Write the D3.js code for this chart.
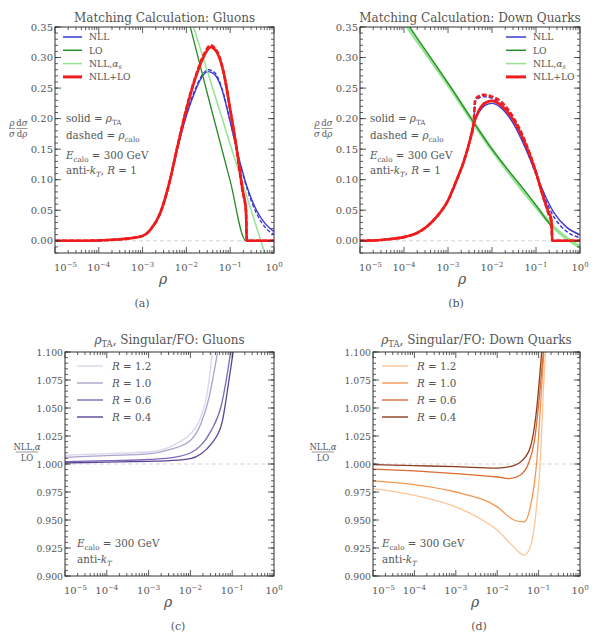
<!DOCTYPE html>
<html>
<head>
<meta charset="utf-8">
<script src="https://cdn.jsdelivr.net/npm/d3@7"></script>
<style>
  html, body { margin: 0; padding: 0; background: #fff; }
</style>
</head>
<body>
<svg id="chart" width="596" height="637" font-family="DejaVu Serif, Liberation Serif, serif"></svg>
<script>
// ---------- DATA (each point is [log10 rho, value]) ----------

const X_TICK_EXP = [-5, -4, -3, -2, -1, 0];
const DIST_Y_TICKS = [0, 0.05, 0.10, 0.15, 0.20, 0.25, 0.30, 0.35];
const RATIO_Y_TICKS = [0.9, 0.925, 0.95, 0.975, 1.0, 1.025, 1.05, 1.075, 1.1];
const R_LABELS = ["R = 1.2", "R = 1.0", "R = 0.6", "R = 0.4"];

// (a) gluons
const gluonRise = [[-5, 0], [-4.5, 0], [-4, 0.0005], [-3.6, 0.002], [-3.3, 0.004], [-3, 0.008],
  [-2.8, 0.02], [-2.6, 0.045], [-2.4, 0.092]];
const gluonNll = [[-2.2, 0.152], [-2, 0.205], [-1.8, 0.245], [-1.65, 0.268], [-1.5, 0.277],
  [-1.35, 0.272], [-1.2, 0.25], [-1, 0.195], [-0.8, 0.135], [-0.6, 0.085], [-0.4, 0.05],
  [-0.2, 0.028], [0, 0.015]];
const gluonNllCalo = [[-2.2, 0.153], [-2, 0.207], [-1.8, 0.248], [-1.5, 0.28], [-1.35, 0.275],
  [-1.2, 0.252], [-1, 0.195], [-0.8, 0.133], [-0.6, 0.082], [-0.4, 0.045], [-0.2, 0.022], [0, 0.01]];
const gluonLo = [[-1.94, 0.358], [-1.5, 0.235], [-1, 0.098], [-0.64, 0.0], [-0.63, 0.0]];
const gluonNllAs = [[-1.88, 0.36], [-1, 0.158], [-0.3, 0.0], [-0.2, -0.023]];
const gluonMatched = [[-2.2, 0.155], [-2, 0.215], [-1.8, 0.265], [-1.6, 0.302], [-1.45, 0.317],
  [-1.3, 0.308], [-1.15, 0.275], [-1, 0.215], [-0.85, 0.15], [-0.72, 0.085], [-0.64, 0.05],
  [-0.62, 0], [0, 0]];
const gluonMatchedCalo = [[-2.2, 0.156], [-2, 0.217], [-1.8, 0.267], [-1.6, 0.305], [-1.45, 0.32],
  [-1.3, 0.31], [-1.15, 0.276], [-1, 0.215], [-0.85, 0.148], [-0.72, 0.082], [-0.64, 0.048],
  [-0.62, 0], [0, 0]];

// (b) down quarks
const quarkRise = [[-5, 0], [-4.6, 0.001], [-4.3, 0.003], [-4, 0.006], [-3.7, 0.013], [-3.5, 0.022],
  [-3.25, 0.04], [-3, 0.066], [-2.8, 0.1], [-2.65, 0.128], [-2.5, 0.165], [-2.42, 0.19]];
const quarkNll = [[-2.3, 0.21], [-2.15, 0.222], [-2, 0.225], [-1.8, 0.218], [-1.5, 0.19],
  [-1.25, 0.153], [-1, 0.11], [-0.8, 0.075], [-0.6, 0.047], [-0.3, 0.022], [0, 0.01]];
const quarkNllCalo = [[-2.38, 0.228], [-2.2, 0.236], [-2, 0.233], [-1.8, 0.224], [-1.5, 0.195],
  [-1.25, 0.155], [-1, 0.108], [-0.8, 0.07], [-0.6, 0.04], [-0.3, 0.015], [0, 0.005]];
const quarkLo = [[-3.9, 0.353], [-3, 0.258], [-2, 0.15], [-1, 0.058], [-0.8, 0.038], [-0.64, 0.02],
  [-0.63, 0]];
const quarkNllAs = [[-3.95, 0.353], [-3, 0.256], [-2, 0.149], [-1, 0.056], [-0.6, 0.022],
  [-0.3, 0.004], [0, -0.01]];
const quarkMatched = [[-2.3, 0.213], [-2.15, 0.226], [-2, 0.229], [-1.8, 0.222], [-1.5, 0.196],
  [-1.25, 0.16], [-1, 0.112], [-0.85, 0.075], [-0.72, 0.048], [-0.65, 0.035], [-0.63, 0], [0, 0]];
const quarkMatchedCalo = [[-2.38, 0.232], [-2.2, 0.239], [-2, 0.236], [-1.8, 0.228], [-1.5, 0.2],
  [-1.25, 0.163], [-1, 0.112], [-0.85, 0.075], [-0.72, 0.045], [-0.65, 0.03], [-0.63, 0], [0, 0]];

// (c) gluon ratio NLL,alpha / LO for R = 1.2, 1.0, 0.6, 0.4
const gluonRatio12 = [[-5, 1.0077], [-4, 1.0093], [-3, 1.0107], [-2.5, 1.015], [-2.25, 1.02],
  [-2, 1.027], [-1.75, 1.042], [-1.6, 1.063], [-1.52, 1.085], [-1.47, 1.102]];
const gluonRatio10 = [[-5, 1.006], [-4, 1.0075], [-3, 1.009], [-2.5, 1.0128], [-2, 1.021],
  [-1.75, 1.036], [-1.55, 1.06], [-1.42, 1.085], [-1.34, 1.102]];
const gluonRatio06 = [[-5, 1.002], [-4, 1.003], [-3, 1.004], [-2.5, 1.0054], [-2, 1.0098],
  [-1.75, 1.0166], [-1.5, 1.03], [-1.25, 1.054], [-1.12, 1.08], [-1.03, 1.102]];
const gluonRatio04 = [[-5, 1.001], [-4, 1.0017], [-3, 1.0024], [-2.5, 1.003], [-2, 1.0048],
  [-1.75, 1.009], [-1.5, 1.018], [-1.25, 1.036], [-1.1, 1.069], [-0.97, 1.102]];

// (d) down quark ratio
const quarkRatio12 = [[-5, 0.978], [-4, 0.972], [-3, 0.9617], [-2.5, 0.953], [-2, 0.941],
  [-1.6, 0.926], [-1.35, 0.9186], [-1.2, 0.926], [-1.05, 0.9617], [-0.95, 1.009], [-0.88, 1.069],
  [-0.83, 1.102]];
const quarkRatio10 = [[-5, 0.985], [-4, 0.9816], [-3, 0.975], [-2, 0.9617], [-1.6, 0.95],
  [-1.35, 0.9483], [-1.2, 0.9617], [-1.05, 1.0], [-0.95, 1.054], [-0.87, 1.102]];
const quarkRatio06 = [[-5, 0.9955], [-4, 0.9938], [-3, 0.9914], [-2, 0.9884], [-1.7, 0.987],
  [-1.45, 0.99], [-1.25, 1.0], [-1.1, 1.021], [-0.98, 1.06], [-0.88, 1.102]];
const quarkRatio04 = [[-5, 0.9994], [-4, 0.9985], [-3, 0.9976], [-2, 0.9964], [-1.6, 0.9985],
  [-1.4, 1.003], [-1.2, 1.015], [-1.05, 1.048], [-0.97, 1.08], [-0.92, 1.102]];

// ---------- STYLE ----------
const FONT = "DejaVu Serif, Liberation Serif, serif";
const TXT = "#555";
const C_BLUE = "#3a3ad6", C_GREEN = "#2a8a2a", C_LGREEN = "#93e493", C_RED = "#ee1c1c";
const PURPLES = ["#dbd5ea", "#aba1cd", "#7d69b6", "#5a4494"];
const ORANGES = ["#fdc595", "#f39650", "#dc6a31", "#8d3d1f"];

const svg = d3.select("#chart");

// rich text with italic / sub / sup pieces
function richText(parent, x, y, parts, size, anchor) {
  const t = parent.append("text").attr("x", x).attr("y", y)
    .attr("font-family", FONT).attr("fill", TXT)
    .attr("font-size", size).attr("text-anchor", anchor || "start");
  let shift = 0;
  parts.forEach((p) => {
    const s = typeof p === "string" ? { t: p } : p;
    const target = s.sub ? size * 0.28 : s.sup ? -size * 0.42 : 0;
    const fs = s.sub || s.sup ? size * 0.7 : size;
    t.append("tspan").attr("dy", target - shift).attr("font-size", fs)
      .attr("font-style", s.it ? "italic" : null).text(s.t);
    shift = target;
  });
  return t;
}

function drawPanel(cfg) {
  const x = d3.scaleLog().domain([1e-5, 1]).range([cfg.left, cfg.right]);
  const y = d3.scaleLinear().domain(cfg.yDomain).range([cfg.bottom, cfg.top]);
  const g = svg.append("g");
  const clipId = "clip-" + cfg.name;
  g.append("clipPath").attr("id", clipId).append("rect")
    .attr("x", cfg.left).attr("y", cfg.top)
    .attr("width", cfg.right - cfg.left).attr("height", cfg.bottom - cfg.top);

  // reference line
  g.append("line")
    .attr("x1", cfg.left).attr("x2", cfg.right)
    .attr("y1", y(cfg.refY)).attr("y2", y(cfg.refY))
    .attr("stroke", "#c8c8c8").attr("stroke-width", 0.8).attr("stroke-dasharray", "4,3");

  const line = d3.line()
    .x((d) => x(Math.pow(10, d[0])))
    .y((d) => y(d[1]))
    .curve(d3.curveMonotoneX);

  const curves = g.append("g").attr("clip-path", `url(#${clipId})`);
  cfg.series.forEach((s) => {
    curves.append("path")
      .attr("d", line(s.data))
      .attr("fill", "none")
      .attr("stroke", s.color)
      .attr("stroke-width", s.width)
      .attr("stroke-dasharray", s.dash || null)
      .attr("stroke-linejoin", "round");
  });

  // ticks, all four sides, pointing in
  const tk = g.append("g").attr("stroke", "#333").attr("stroke-width", 0.8);
  const majorX = X_TICK_EXP.map((e) => Math.pow(10, e));
  const minorX = [];
  X_TICK_EXP.slice(0, -1).forEach((e) => {
    for (let k = 2; k <= 9; k++) minorX.push(k * Math.pow(10, e));
  });
  [[majorX, 6], [minorX, 3]].forEach(([vals, len]) => {
    vals.forEach((v) => {
      tk.append("line").attr("x1", x(v)).attr("x2", x(v))
        .attr("y1", cfg.bottom).attr("y2", cfg.bottom - len);
      tk.append("line").attr("x1", x(v)).attr("x2", x(v))
        .attr("y1", cfg.top).attr("y2", cfg.top + len);
    });
  });
  const minorY = d3.range(cfg.yDomain[0], cfg.yDomain[1] + 1e-9, cfg.yMinor);
  [[cfg.yTicks, 6], [minorY, 3]].forEach(([vals, len]) => {
    vals.forEach((v) => {
      tk.append("line").attr("y1", y(v)).attr("y2", y(v))
        .attr("x1", cfg.left).attr("x2", cfg.left + len);
      tk.append("line").attr("y1", y(v)).attr("y2", y(v))
        .attr("x1", cfg.right).attr("x2", cfg.right - len);
    });
  });

  g.append("rect")
    .attr("x", cfg.left).attr("y", cfg.top)
    .attr("width", cfg.right - cfg.left).attr("height", cfg.bottom - cfg.top)
    .attr("fill", "none").attr("stroke", "#333").attr("stroke-width", 1);

  // tick labels
  cfg.yTicks.forEach((v) => {
    richText(g, cfg.left - 2, y(v) + 3.5, [cfg.yFmt(v)], cfg.yTickSize, "end");
  });
  X_TICK_EXP.forEach((e, i) => {
    const parts = ["10", { t: e === 0 ? "0" : "\u2212" + Math.abs(e), sup: true }];
    const xx = i === 0 ? x(Math.pow(10, e)) - 1 : x(Math.pow(10, e));
    richText(g, xx, cfg.bottom + 18, parts, 10, i === 0 ? "start" : "middle");
  });

  // title, axis label, panel tag
  const cx = (cfg.left + cfg.right) / 2;
  richText(g, cx, cfg.top - cfg.titleDy, cfg.title, 12, "middle");
  richText(g, cfg.xLabelX, cfg.bottom + 31, [{ t: "\u03c1", it: true }], 14, "middle");
  richText(g, cfg.tagX, cfg.bottom + 54, [cfg.tag], 11, "middle");

  // legend
  cfg.legend.items.forEach((it, i) => {
    const ly = cfg.legend.y + i * cfg.legend.dy;
    g.append("line")
      .attr("x1", cfg.legend.x).attr("x2", cfg.legend.x + cfg.legend.len)
      .attr("y1", ly).attr("y2", ly)
      .attr("stroke", it.color).attr("stroke-width", it.width);
    richText(g, cfg.legend.x + cfg.legend.len + cfg.legend.gap, ly + cfg.legend.size * 0.35,
      it.label, cfg.legend.size, "start");
  });

  // notes
  cfg.notes.forEach((n) => richText(g, cfg.noteX, n.y, n.parts, 10.3, "start"));

  // y label (stacked fractions)
  cfg.yLabel.forEach((f) => {
    richText(g, f.x, f.y - 2.5, f.num, 8.5, "middle");
    g.append("line").attr("x1", f.x - f.w / 2).attr("x2", f.x + f.w / 2)
      .attr("y1", f.y).attr("y2", f.y).attr("stroke", TXT).attr("stroke-width", 0.6);
    richText(g, f.x, f.y + 8.5, f.den, 8.5, "middle");
  });
}

// ---------- PANELS ----------
const distNotes = [
  { y: 122, parts: ["solid = ", { t: "\u03c1", it: true }, { t: "TA", sub: true }] },
  { y: 139, parts: ["dashed = ", { t: "\u03c1", it: true }, { t: "calo", sub: true }] },
  { y: 159, parts: [{ t: "E", it: true }, { t: "calo", sub: true }, " = 300 GeV"] },
  { y: 174, parts: ["anti-", { t: "k", it: true }, { t: "T", sub: true, it: true }, ", ", { t: "R", it: true }, " = 1"] }
];
const ratioNotes = [
  { y: 547, parts: [{ t: "E", it: true }, { t: "calo", sub: true }, " = 300 GeV"] },
  { y: 563, parts: ["anti-", { t: "k", it: true }, { t: "T", sub: true, it: true }] }
];
const distLegend = [
  { label: ["NLL"], color: C_BLUE, width: 1.5 },
  { label: ["LO"], color: C_GREEN, width: 1.5 },
  { label: ["NLL,", { t: "\u03b1", it: true }, { t: "s", sub: true, it: true }], color: C_LGREEN, width: 1.5 },
  { label: ["NLL+LO"], color: C_RED, width: 3 }
];
function rLegend(colors) {
  return R_LABELS.map((l, i) => ({
    label: [{ t: "R", it: true }, l.slice(1)], color: colors[i], width: 1.4
  }));
}
const distYLabel = (x0) => [
  { x: x0, y: 128.5, w: 6, num: [{ t: "\u03c1", it: true }], den: [{ t: "\u03c3", it: true }] },
  { x: x0 + 10, y: 128.5, w: 11, num: ["d", { t: "\u03c3", it: true }], den: ["d", { t: "\u03c1", it: true }] }
];
const ratioYLabel = (x0) => [
  { x: x0, y: 452, w: 22, num: ["NLL,", { t: "\u03b1", it: true }], den: ["LO"] }
];

const distBase = {
  top: 27, bottom: 253, yDomain: [-0.02, 0.35], yTicks: DIST_Y_TICKS, yTickSize: 10,
  yMinor: 0.01, yFmt: d3.format(".2f"), refY: 0, titleDy: 5.5
};
const ratioBase = {
  top: 352, bottom: 576, yDomain: [0.9, 1.1], yTicks: RATIO_Y_TICKS, yTickSize: 9.3,
  yMinor: 0.005, yFmt: d3.format(".3f"), refY: 1, titleDy: 8
};

drawPanel(Object.assign({}, distBase, {
  name: "a", left: 55, right: 274, xLabelX: 163, tagX: 142, tag: "(a)",
  title: ["Matching Calculation: Gluons"],
  series: [
    { data: gluonRise.concat(gluonNllCalo), color: C_BLUE, width: 1.4, dash: "4,2" },
    { data: gluonRise.concat(gluonNll), color: C_BLUE, width: 1.4 },
    { data: gluonLo, color: C_GREEN, width: 1.3 },
    { data: gluonNllAs, color: C_LGREEN, width: 1.5 },
    { data: gluonRise.concat(gluonMatchedCalo), color: C_RED, width: 2.6, dash: "5,2" },
    { data: gluonRise.concat(gluonMatched), color: C_RED, width: 2.6 }
  ],
  legend: { x: 63, y: 37, dy: 13.3, len: 19, gap: 7, size: 9.2, items: distLegend },
  noteX: 66, notes: distNotes, yLabel: distYLabel(12)
}));

drawPanel(Object.assign({}, distBase, {
  name: "b", left: 360, right: 580, xLabelX: 462, tagX: 456, tag: "(b)",
  title: ["Matching Calculation: Down Quarks"],
  series: [
    { data: quarkRise.concat(quarkNllCalo), color: C_BLUE, width: 1.4, dash: "4,2" },
    { data: quarkRise.concat(quarkNll), color: C_BLUE, width: 1.4 },
    { data: quarkNllAs, color: C_LGREEN, width: 3.5 },
    { data: quarkLo, color: C_GREEN, width: 1.3 },
    { data: quarkRise.concat(quarkMatchedCalo), color: C_RED, width: 2.6, dash: "5,2" },
    { data: quarkRise.concat(quarkMatched), color: C_RED, width: 2.6 }
  ],
  legend: { x: 506, y: 37, dy: 13.3, len: 20, gap: 7, size: 9.2, items: distLegend },
  noteX: 370, notes: distNotes, yLabel: distYLabel(317)
}));

drawPanel(Object.assign({}, ratioBase, {
  name: "c", left: 65, right: 274, xLabelX: 168, tagX: 178, tag: "(c)",
  title: [{ t: "\u03c1", it: true }, { t: "TA", sub: true }, ", Singular/FO: Gluons"],
  series: [
    { data: gluonRatio12, color: PURPLES[0], width: 1.3 },
    { data: gluonRatio10, color: PURPLES[1], width: 1.3 },
    { data: gluonRatio06, color: PURPLES[2], width: 1.3 },
    { data: gluonRatio04, color: PURPLES[3], width: 1.3 }
  ],
  legend: { x: 77, y: 366, dy: 17, len: 26, gap: 9, size: 10.3, items: rLegend(PURPLES) },
  noteX: 77, notes: ratioNotes, yLabel: ratioYLabel(27)
}));

drawPanel(Object.assign({}, ratioBase, {
  name: "d", left: 373, right: 580, xLabelX: 475, tagX: 479, tag: "(d)",
  title: [{ t: "\u03c1", it: true }, { t: "TA", sub: true }, ", Singular/FO: Down Quarks"],
  series: [
    { data: quarkRatio12, color: ORANGES[0], width: 1.3 },
    { data: quarkRatio10, color: ORANGES[1], width: 1.3 },
    { data: quarkRatio06, color: ORANGES[2], width: 1.3 },
    { data: quarkRatio04, color: ORANGES[3], width: 1.3 }
  ],
  legend: { x: 382, y: 366, dy: 17, len: 26, gap: 9, size: 10.3, items: rLegend(ORANGES) },
  noteX: 382, notes: ratioNotes, yLabel: ratioYLabel(323)
}));
</script>
</body>
</html>
